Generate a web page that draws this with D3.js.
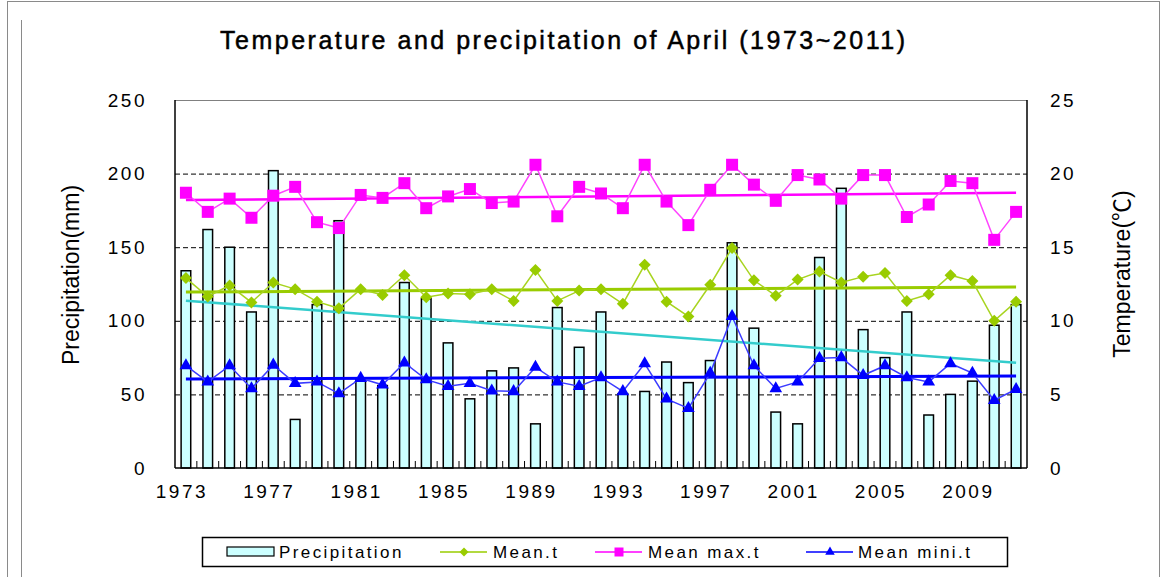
<!DOCTYPE html>
<html>
<head>
<meta charset="utf-8">
<script src="https://cdn.jsdelivr.net/npm/d3@7"></script>
<style>
    body { margin: 0; background: #fff; }
    svg { display: block; font-family: "Liberation Sans", Arial, "Noto Sans CJK KR", sans-serif; }
</style>
</head>
<body>
<div id="chart"></div>
<script>
// chart data
const years = [1973, 1974, 1975, 1976, 1977, 1978, 1979, 1980, 1981, 1982, 1983, 1984, 1985,
    1986, 1987, 1988, 1989, 1990, 1991, 1992, 1993, 1994, 1995, 1996, 1997, 1998,
    1999, 2000, 2001, 2002, 2003, 2004, 2005, 2006, 2007, 2008, 2009, 2010, 2011];
const precipitation = [134, 162, 150, 106, 202, 33, 111, 168, 60, 56, 126, 115, 85,
    47, 66, 68, 30, 109, 82, 106, 50.5, 52, 72, 58, 73, 153,
    95, 38, 30, 143, 190, 94, 75, 106, 36, 50, 59, 97, 111];
const meanT = [12.9, 11.65, 12.4, 11.25, 12.6, 12.15, 11.3, 10.85, 12.15, 11.75, 13.1, 11.6, 11.85,
    11.8, 12.15, 11.35, 13.45, 11.35, 12.05, 12.15, 11.15, 13.8, 11.3, 10.3, 12.45, 14.95,
    12.75, 11.7, 12.8, 13.35, 12.6, 13.0, 13.25, 11.35, 11.8, 13.1, 12.7, 10.0, 11.3];
const meanMaxT = [18.7, 17.4, 18.3, 17.0, 18.5, 19.1, 16.7, 16.3, 18.55, 18.35, 19.35, 17.65, 18.45,
    18.95, 18.0, 18.1, 20.6, 17.1, 19.1, 18.65, 17.65, 20.6, 18.1, 16.5, 18.9, 20.6,
    19.25, 18.15, 19.9, 19.6, 18.3, 19.9, 19.9, 17.05, 17.9, 19.5, 19.35, 15.5, 17.4];
const meanMinT = [6.95, 5.85, 6.95, 5.4, 7.0, 5.75, 5.85, 5.05, 6.1, 5.65, 7.15, 6.0, 5.55,
    5.75, 5.25, 5.2, 6.85, 5.85, 5.55, 6.15, 5.2, 7.1, 4.7, 4.05, 6.45, 10.3,
    6.95, 5.4, 5.85, 7.45, 7.5, 6.3, 6.95, 6.15, 5.85, 7.1, 6.45, 4.6, 5.35];

// linear trend lines: value at the first year and at the last year
const precipTrend = [113.7, 71.5];
const meanTrend = [11.95, 12.3];
const maxTrend = [18.2, 18.7];
const minTrend = [6.05, 6.25];

const yearLabels = [1973, 1977, 1981, 1985, 1989, 1993, 1997, 2001, 2005, 2009];
const precipTicks = [0, 50, 100, 150, 200, 250];
const tempTicks = [0, 5, 10, 15, 20, 25];
const gridTicks = [50, 100, 150, 200];

const W = 1166, H = 577;
const plot = {left: 175, right: 1027, top: 100, bottom: 468};

const colors = {
    bar: "#ccffff",
    precipTrend: "#33cccc",
    mean: "#99cc00",
    meanLine: "#a8d420",
    max: "#ff00ff",
    maxLine: "#ff44ff",
    min: "#0000ff",
    minLine: "#3b3bff"
};

const svg = d3.select("#chart").append("svg")
    .attr("width", W)
    .attr("height", H);

// outer frame
svg.append("rect")
    .attr("x", 7.5).attr("y", 1.5)
    .attr("width", 1152).attr("height", 620)
    .attr("fill", "none")
    .attr("stroke", "#8a8a8a");
svg.append("line")
    .attr("x1", 21.5).attr("x2", 21.5)
    .attr("y1", 20).attr("y2", H)
    .attr("stroke", "#8a8a8a");

// scales
const x = d3.scaleBand().domain(years).range([plot.left, plot.right]).padding(0);
const cx = d => x(d) + x.bandwidth() / 2;
const yP = d3.scaleLinear().domain([0, 250]).range([plot.bottom, plot.top]);
const yT = d3.scaleLinear().domain([0, 25]).range([plot.bottom, plot.top]);

// title
svg.append("text")
    .attr("x", 220).attr("y", 49)
    .attr("font-size", 25)
    .attr("textLength", 685)
    .attr("lengthAdjust", "spacing")
    .attr("fill", "#000")
    .attr("stroke", "#000")
    .attr("stroke-width", 0.5)
    .text("Temperature and precipitation of April (1973~2011)");

// dashed gridlines
svg.append("g")
    .selectAll("line")
    .data(gridTicks)
    .enter().append("line")
    .attr("x1", plot.left).attr("x2", plot.right)
    .attr("y1", d => yP(d) + 0.5).attr("y2", d => yP(d) + 0.5)
    .attr("stroke", "#000")
    .attr("stroke-width", 1)
    .attr("stroke-dasharray", "5,3");

// plot area border (top is grey, axes are black)
svg.append("line")
    .attr("x1", plot.left).attr("x2", plot.right)
    .attr("y1", plot.top + 0.5).attr("y2", plot.top + 0.5)
    .attr("stroke", "#808080");

// precipitation bars
const barW = x.bandwidth() * 0.44;
svg.append("g")
    .selectAll("rect")
    .data(years)
    .enter().append("rect")
    .attr("x", d => cx(d) - barW / 2)
    .attr("y", (d, i) => yP(precipitation[i]))
    .attr("width", barW)
    .attr("height", (d, i) => plot.bottom - yP(precipitation[i]))
    .attr("fill", colors.bar)
    .attr("stroke", "#000")
    .attr("stroke-width", 1.5);

// axes lines
svg.append("line")
    .attr("x1", plot.left).attr("x2", plot.left)
    .attr("y1", plot.top).attr("y2", plot.bottom)
    .attr("stroke", "#000").attr("stroke-width", 1.5);
svg.append("line")
    .attr("x1", plot.right).attr("x2", plot.right)
    .attr("y1", plot.top).attr("y2", plot.bottom)
    .attr("stroke", "#000").attr("stroke-width", 1.5);
svg.append("line")
    .attr("x1", plot.left).attr("x2", plot.right)
    .attr("y1", plot.bottom).attr("y2", plot.bottom)
    .attr("stroke", "#000").attr("stroke-width", 1.5);

// category boundary ticks, pointing into the plot
svg.append("g")
    .selectAll("line")
    .data(years.slice(1))
    .enter().append("line")
    .attr("x1", d => x(d)).attr("x2", d => x(d))
    .attr("y1", plot.bottom).attr("y2", plot.bottom - 7)
    .attr("stroke", "#000");

// trend lines
function trend(vals, scale, color, width) {
    svg.append("line")
        .attr("x1", cx(years[0])).attr("x2", cx(years[years.length - 1]))
        .attr("y1", scale(vals[0])).attr("y2", scale(vals[1]))
        .attr("stroke", color)
        .attr("stroke-width", width);
}
trend(precipTrend, yP, colors.precipTrend, 2.5);
trend(maxTrend, yT, colors.max, 2.5);
trend(meanTrend, yT, colors.mean, 3);
trend(minTrend, yT, colors.min, 3);

// temperature series
const diamond = "M0,-6L6,0L0,6L-6,0Z";
const square = d3.symbol().type(d3.symbolSquare).size(144)();
const triangle = d3.symbol().type(d3.symbolTriangle).size(70)();

function series(vals, lineColor, color, shape) {
    const line = d3.line()
        .x((d, i) => cx(years[i]))
        .y(d => yT(d));
    svg.append("path")
        .datum(vals)
        .attr("fill", "none")
        .attr("stroke", lineColor)
        .attr("stroke-width", 1.5)
        .attr("d", line);
    svg.append("g")
        .selectAll("path")
        .data(vals)
        .enter().append("path")
        .attr("transform", (d, i) => "translate(" + cx(years[i]) + "," + yT(d) + ")")
        .attr("d", shape)
        .attr("fill", color);
}
series(meanMaxT, colors.maxLine, colors.max, square);
series(meanT, colors.meanLine, colors.mean, diamond);
series(meanMinT, colors.minLine, colors.min, triangle);

// left axis labels
const axisLeft = svg.append("g")
    .attr("transform", "translate(" + plot.left + ",0)")
    .call(d3.axisLeft(yP).tickValues(precipTicks).tickSize(0).tickPadding(28));
axisLeft.select(".domain").remove();
axisLeft.selectAll("text")
    .attr("font-family", "Liberation Sans, Arial, sans-serif")
    .attr("font-size", 19)
    .attr("letter-spacing", 2.5)
    .attr("fill", "#000");

// right axis labels
const axisRight = svg.append("g")
    .attr("transform", "translate(" + plot.right + ",0)")
    .call(d3.axisRight(yT).tickValues(tempTicks).tickSize(0).tickPadding(23));
axisRight.select(".domain").remove();
axisRight.selectAll("text")
    .attr("font-family", "Liberation Sans, Arial, sans-serif")
    .attr("font-size", 19)
    .attr("letter-spacing", 2.5)
    .attr("fill", "#000");

// year labels
svg.append("g")
    .selectAll("text")
    .data(yearLabels)
    .enter().append("text")
    .attr("x", d => cx(d) - 4)
    .attr("y", 498)
    .attr("text-anchor", "middle")
    .attr("font-size", 19)
    .attr("letter-spacing", 2.5)
    .text(d => d);

// axis titles
svg.append("text")
    .attr("transform", "translate(79,275) rotate(-90)")
    .attr("text-anchor", "middle")
    .attr("font-size", 23)
    .text("Precipitation(mm)");
svg.append("text")
    .attr("transform", "translate(1130,274) rotate(-90)")
    .attr("text-anchor", "middle")
    .attr("font-size", 23)
    .text("Temperature(℃)");

// legend
const legend = svg.append("g");
legend.append("rect")
    .attr("x", 202.5).attr("y", 537.5)
    .attr("width", 805).attr("height", 29)
    .attr("fill", "#fff")
    .attr("stroke", "#000")
    .attr("stroke-width", 1.5);

const legendItems = [
    {label: "Precipitation", x: 227, text: 279},
    {label: "Mean.t", x: 440, text: 493, line: colors.mean, color: colors.mean, shape: diamond},
    {label: "Mean max.t", x: 595, text: 648, line: colors.max, color: colors.max, shape: square},
    {label: "Mean mini.t", x: 806, text: 858, line: colors.min, color: colors.min, shape: triangle}
];
const ly = 552;
legendItems.forEach(function(d) {
    if (!d.line) {
        legend.append("rect")
            .attr("x", d.x).attr("y", ly - 5)
            .attr("width", 47).attr("height", 9)
            .attr("fill", colors.bar)
            .attr("stroke", "#000")
            .attr("stroke-width", 1.2);
    } else {
        legend.append("line")
            .attr("x1", d.x).attr("x2", d.x + 47)
            .attr("y1", ly).attr("y2", ly)
            .attr("stroke", d.line)
            .attr("stroke-width", 1.5);
        legend.append("path")
            .attr("transform", "translate(" + (d.x + 24) + "," + ly + ") scale(0.75)")
            .attr("d", d.shape)
            .attr("fill", d.color);
    }
    legend.append("text")
        .attr("x", d.text).attr("y", ly + 6)
        .attr("font-size", 17)
        .attr("letter-spacing", 2.4)
        .text(d.label);
});
</script>
</body>
</html>
